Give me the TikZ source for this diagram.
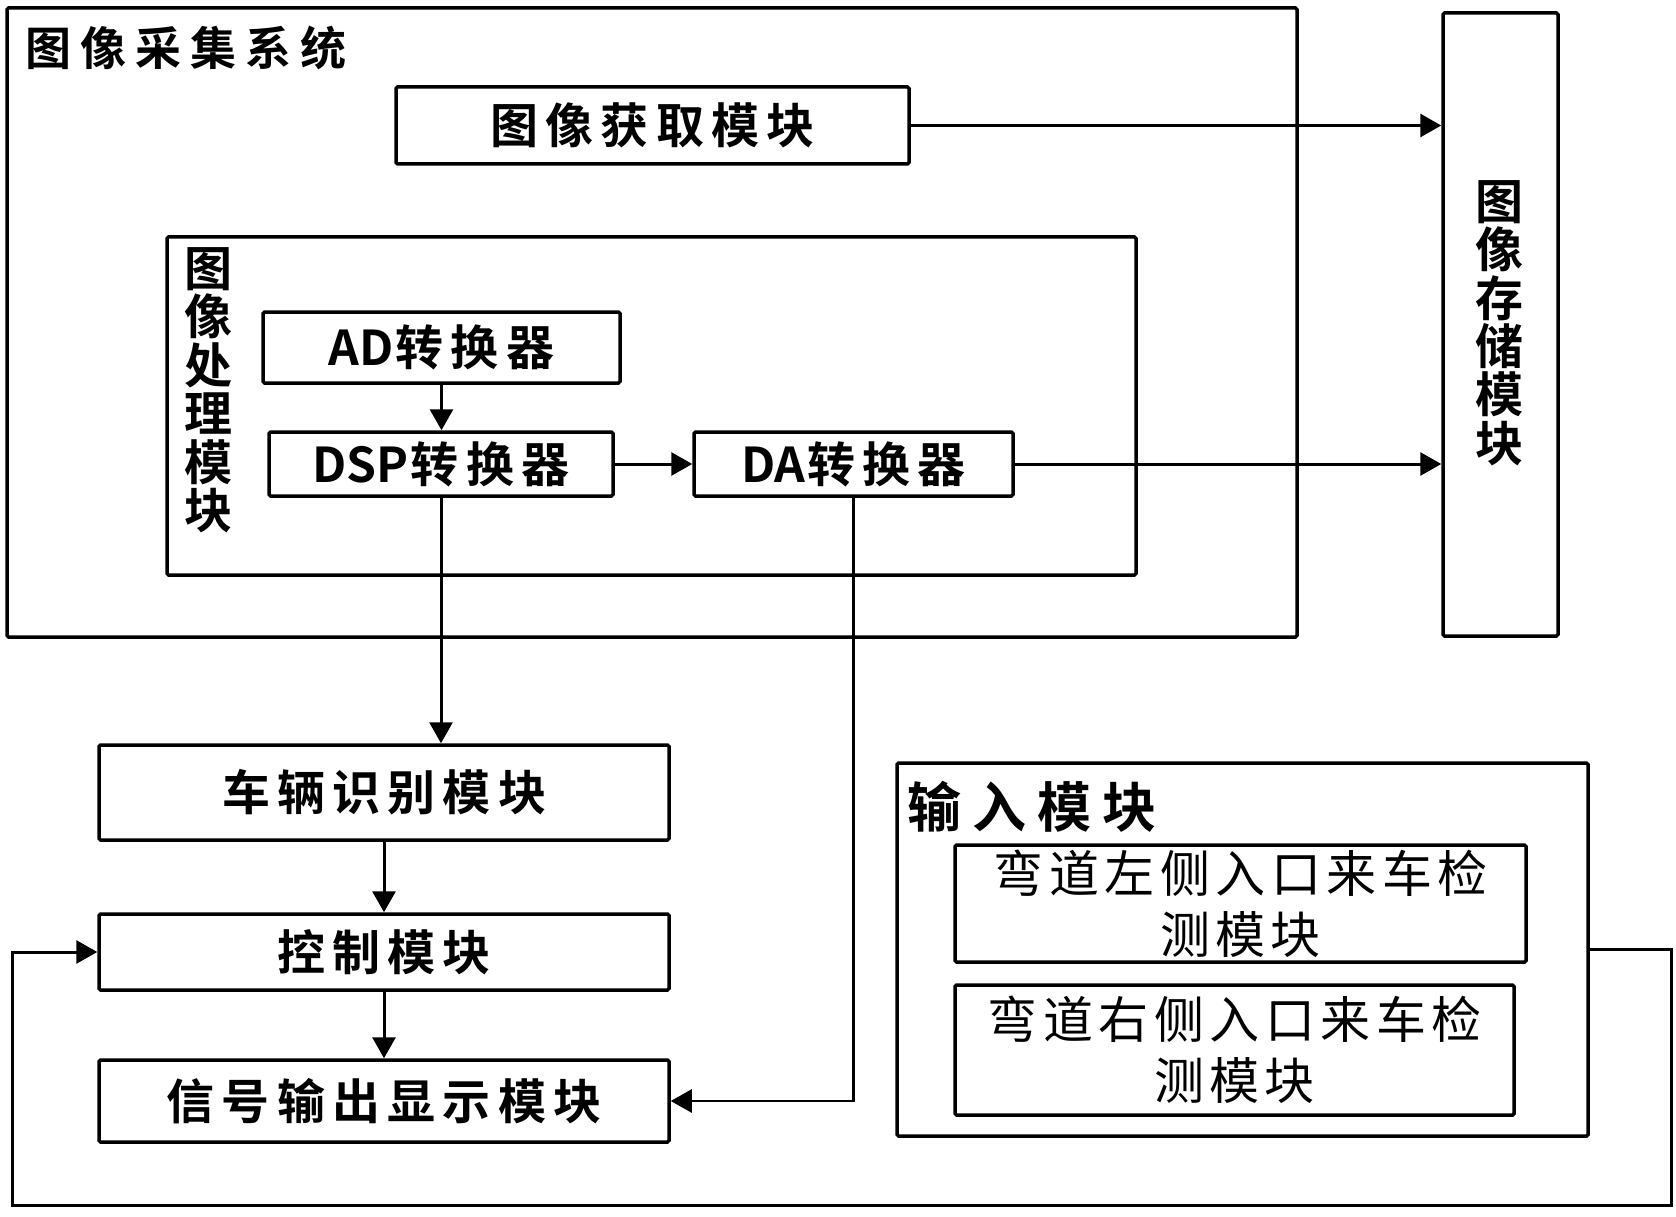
\documentclass[tikz,border=0pt]{standalone}
\usepackage{fontspec}
\setmainfont{Noto Sans CJK SC}[BoldFont={Noto Sans CJK SC Bold}]
\newfontfamily\lsA{Noto Sans CJK SC}[LetterSpace=15,BoldFont={Noto Sans CJK SC Bold}]
\newfontfamily\lsT{Noto Sans CJK SC}[LetterSpace=20,BoldFont={Noto Sans CJK SC Bold}]
\newfontfamily\lsE{Noto Sans CJK SC}[LetterSpace=11,BoldFont={Noto Sans CJK SC Bold}]
\newfontfamily\vfont{Noto Sans CJK SC}[BoldFont={Noto Sans CJK SC Bold}]
\newcommand{\lat}[1]{{\vfont\bfseries #1\kern2pt}}
\usetikzlibrary{arrows.meta}
\begin{document}
\begin{tikzpicture}[x=1pt,y=-1pt,
  box/.style={draw, line width=3.5pt, inner sep=0pt, rounded corners=1.5pt,
    font=\lsA\bfseries\fontsize{48}{62}\selectfont},
  entry/.style={draw, line width=3.5pt, inner sep=0pt, rounded corners=1.5pt, align=center,
    font=\lsE\fontsize{50}{61}\selectfont},
  vtext/.style={inner sep=0pt, align=center},
  arr/.style={line width=3pt, -{Triangle[length=21pt,width=23pt]}},
  thinarr/.style={line width=2.4pt, -{Triangle[length=21pt,width=23pt]}},
  ]
\useasboundingbox (0,0) rectangle (1676,1217);
% image acquisition system
\node[box, minimum width=1290pt, minimum height=629pt] (sys) at (652,322.5) {};
\node[inner sep=0pt, font=\lsT\bfseries\fontsize{46}{50}\selectfont] (systitle) at (186,47.5) {图像采集系统};
\node[box, minimum width=513pt, minimum height=77pt] (acq) at (652.5,125.5) {图像获取模块};
\node[box, minimum width=969pt, minimum height=338pt] (proc) at (651.5,406) {};
\node[vtext, font=\vfont\bfseries\fontsize{48}{48.5}\selectfont] (proclabel) at (208,390) {图\\像\\处\\理\\模\\块};
\node[box, minimum width=357pt, minimum height=71pt] (ad) at (441.5,347.5) {\lat{AD}转换器};
\node[box, minimum width=344pt, minimum height=64pt] (dsp) at (441,464) {\lat{DSP}转换器};
\node[box, minimum width=319pt, minimum height=64pt] (da) at (853.5,464) {\lat{DA}转换器};
% storage
\node[box, minimum width=115pt, minimum height=623pt] (store) at (1500.5,324.5) {};
\node[vtext, font=\vfont\bfseries\fontsize{48}{48.3}\selectfont] (storelabel) at (1499,323) {图\\像\\存\\储\\模\\块};
% lower left chain
\node[box, minimum width=570pt, minimum height=95pt] (veh) at (384,792.5) {车辆识别模块};
\node[box, minimum width=570pt, minimum height=76pt] (ctrl) at (384,952) {控制模块};
\node[box, minimum width=570pt, minimum height=82pt] (sig) at (384,1101) {信号输出显示模块};
% input module
\node[box, minimum width=691pt, minimum height=373pt] (inp) at (1242.5,949.5) {};
\node[inner sep=0pt, font=\lsT\bfseries\fontsize{54}{60}\selectfont] (inptitle) at (1032,807) {输入模块};
\node[entry, minimum width=571pt, minimum height=117pt] (left) at (1240.5,903.5) {弯道左侧入口来车检\\测模块};
\node[entry, minimum width=559pt, minimum height=130pt] (right) at (1234.5,1050) {弯道右侧入口来车检\\测模块};
% loop coordinates
\coordinate (loopR) at (1671,1205);
\coordinate (loopL) at (12.6,1205);
% connectors
\draw[arr] (acq.east) -- (acq.east -| store.west);
\draw[arr] (ad.south) -- (ad.south |- dsp.north);
\draw[arr] (dsp.east) -- (da.west);
\draw[arr] (da.east) -- (da.east -| store.west);
\draw[arr] (dsp.south) -- (dsp.south |- veh.north);
\draw[arr] (veh.south) -- (ctrl.north);
\draw[arr] (ctrl.south) -- (sig.north);
\draw[thinarr] (da.south) |- (sig.east);
\draw[arr] (inp.east) -- (inp.east -| loopR) -- (loopR) -- (loopL) -- (loopL |- ctrl.west) -- (ctrl.west);
\end{tikzpicture}
\end{document}
